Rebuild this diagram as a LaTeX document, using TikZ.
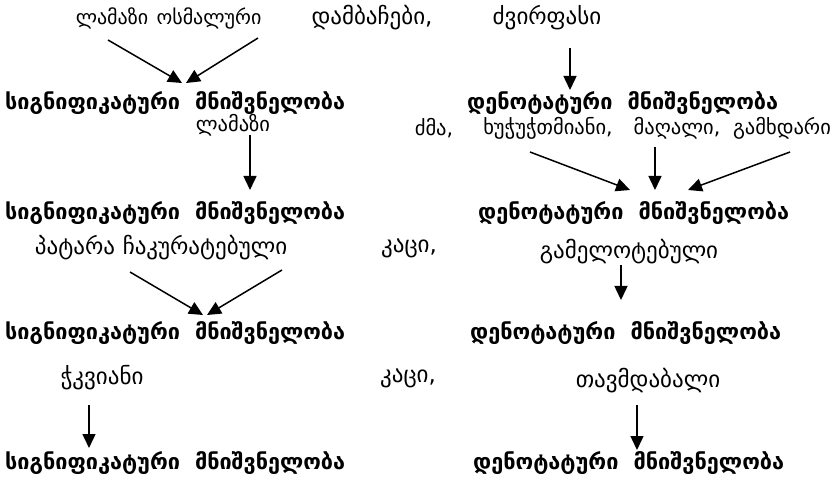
\documentclass[tikz,border=0pt]{standalone}
\usepackage{fontspec}
\usepackage{graphicx}
\newfontfamily\geo[Script=Georgian]{DejaVu Sans}
\newfontfamily\geob[Script=Georgian]{DejaVu Sans Bold}
\usetikzlibrary{arrows.meta}
\newcommand{\fitw}[2]{\resizebox{#1pt}{!}{#2}}
\tikzset{
  word/.style={inner sep=0pt, font=\geo\fontsize{23}{26}\selectfont},
  wordmd/.style={inner sep=0pt, font=\geo\fontsize{20.5}{24}\selectfont},
  wordsm/.style={inner sep=0pt, font=\geo\fontsize{20}{23}\selectfont},
  term/.style={inner sep=0pt, anchor=west, font=\geob\fontsize{21}{24}\selectfont},
  arr/.style={line width=1.5pt, -{Triangle[length=14pt,width=13pt]}},
}
\begin{document}
\begin{tikzpicture}[x=1pt,y=-1pt]
\useasboundingbox (0,0) rectangle (831,481);
% row 1
\node[wordsm] (a1) at (112,18) {ლამაზი};
\node[wordsm] (a2) at (209,18) {ოსმალური};
\node[word] (a3) at (372,18) {დამბაჩები,};
\node[word] (a4) at (547,18) {ძვირფასი};
\node[term] (s1) at (5,103) {\fitw{340}{სიგნიფიკატური\ \ მნიშვნელობა}};
\node[term] (d1) at (467,103) {\fitw{311}{დენოტატური\ \ მნიშვნელობა}};
% row 2
\node[wordmd] (b1) at (233,125) {ლამაზი};
\node[wordmd] (b2) at (434,128) {ძმა,};
\node[wordmd] (b3) at (548,128) {ხუჭუჭთმიანი,};
\node[wordmd] (b4) at (677,128) {მაღალი,};
\node[wordmd] (b5) at (782,128) {გამხდარი};
\node[term] (s2) at (5,213) {\fitw{340}{სიგნიფიკატური\ \ მნიშვნელობა}};
\node[term] (d2) at (478,213) {\fitw{311}{დენოტატური\ \ მნიშვნელობა}};
% row 3
\node[word] (c1) at (75,248) {პატარა};
\node[word] (c2) at (205,248) {ჩაკურატებული};
\node[word] (c3) at (409,248) {კაცი,};
\node[word] (c4) at (629,252) {გამელოტებული};
\node[term] (s3) at (5,333) {\fitw{340}{სიგნიფიკატური\ \ მნიშვნელობა}};
\node[term] (d3) at (470,333) {\fitw{311}{დენოტატური\ \ მნიშვნელობა}};
% row 4
\node[word] (e1) at (102,378) {ჭკვიანი};
\node[word] (e2) at (408,378) {კაცი,};
\node[word] (e3) at (648,381) {თავმდაბალი};
\node[term] (s4) at (5,463) {\fitw{340}{სიგნიფიკატური\ \ მნიშვნელობა}};
\node[term] (d4) at (473,463) {\fitw{311}{დენოტატური\ \ მნიშვნელობა}};
% arrows
\draw[arr] ([xshift=-4pt,yshift=-22pt]a1.center) -- ([xshift=177pt,yshift=20pt]s1.west);
\draw[arr] ([xshift=49pt,yshift=-20pt]a2.center) -- ([xshift=181pt,yshift=20pt]s1.west);
\draw[arr] ([xshift=23pt,yshift=-30pt]a4.center) -- ([xshift=103pt,yshift=13pt]d1.west);
\draw[arr] ([xshift=17pt,yshift=-10pt]b1.center) -- ([xshift=245pt,yshift=23pt]s2.west);
\draw[arr] ([xshift=-18pt,yshift=-24pt]b3.center) -- ([xshift=152pt,yshift=23pt]d2.west);
\draw[arr] ([xshift=-22pt,yshift=-19pt]b4.center) -- ([xshift=177pt,yshift=23pt]d2.west);
\draw[arr] ([xshift=8pt,yshift=-24pt]b5.center) -- ([xshift=210pt,yshift=23pt]d2.west);
\draw[arr] ([xshift=55pt,yshift=-24pt]c1.center) -- ([xshift=198pt,yshift=18pt]s3.west);
\draw[arr] ([xshift=77pt,yshift=-22pt]c2.center) -- ([xshift=202pt,yshift=18pt]s3.west);
\draw[arr] ([xshift=-8pt,yshift=-13pt]c4.center) -- ([xshift=151pt,yshift=33pt]d3.west);
\draw[arr] ([xshift=-13pt,yshift=-27pt]e1.center) -- ([xshift=84pt,yshift=15pt]s4.west);
\draw[arr] ([xshift=-11pt,yshift=-24pt]e3.center) -- ([xshift=164pt,yshift=13pt]d4.west);
\end{tikzpicture}
\end{document}
